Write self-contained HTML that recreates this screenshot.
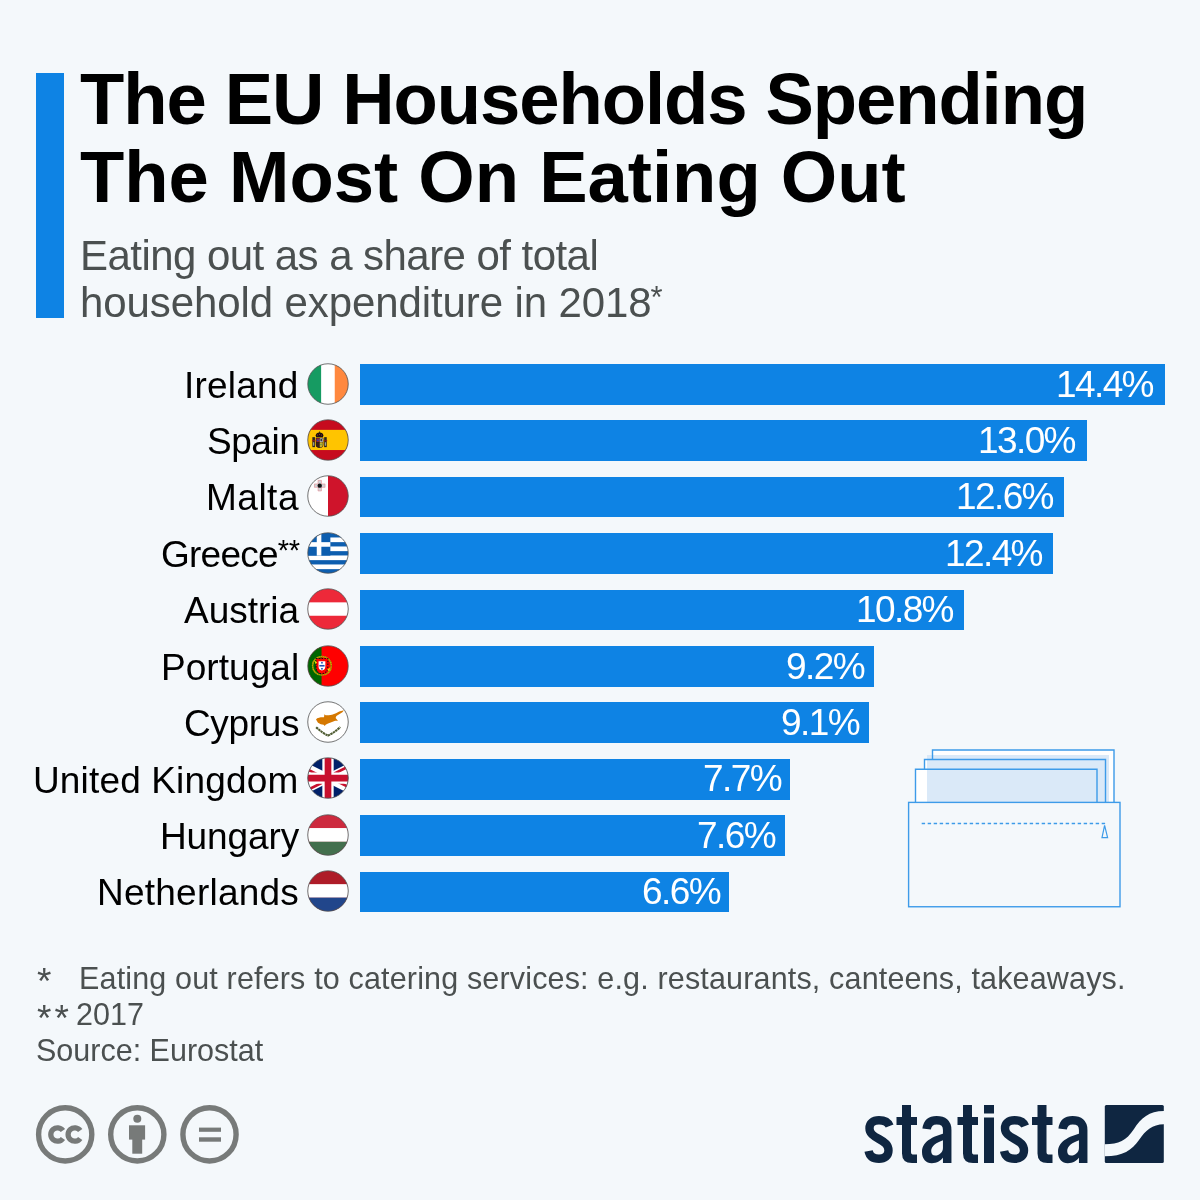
<!DOCTYPE html>
<html>
<head>
<meta charset="utf-8">
<style>
html,body{margin:0;padding:0;}
body{width:1200px;height:1200px;position:relative;overflow:hidden;background:#f4f8fb;font-family:"Liberation Sans",sans-serif;}
.a{position:absolute;white-space:pre;line-height:1;will-change:transform;}
.accent{position:absolute;left:36px;top:73px;width:28px;height:245px;background:#0e83e4;}
.t{font-weight:700;font-size:72.5px;color:#000;left:80px;}
.st{font-size:42px;color:#4b5050;left:80px;}
.bar{position:absolute;left:360px;height:40.8px;background:#0e83e4;}
.lab{position:absolute;right:901px;will-change:transform;font-size:37px;color:#000;line-height:1;white-space:pre;letter-spacing:0.15px;}
.sup{font-size:29px;vertical-align:7px;letter-spacing:-0.5px;}
.val{position:absolute;will-change:transform;top:1.7px;font-size:37px;color:#fff;line-height:1;white-space:pre;letter-spacing:-1.6px;}
.flag{position:absolute;left:307px;width:42px;height:42px;}
.fn{font-size:30.5px;color:#4b5050;}
</style>
</head>
<body>
<div class="accent"></div>
<div class="a t" style="top:62.9px;letter-spacing:-1.08px">The EU Households Spending</div>
<div class="a t" style="top:140.8px">The Most On Eating Out</div>
<div class="a st" style="top:234.6px;letter-spacing:-0.55px">Eating out as a share of total</div>
<div class="a st" style="top:282.2px;letter-spacing:-0.1px">household expenditure in 2018<span style="font-size:31px;vertical-align:9px;margin-left:-1px">*</span></div>
<div class="bar" style="top:363.85px;width:805.00px"><div class="val" style="right:12.07px">14.4%</div></div>
<div class="lab" style="top:366.63px;letter-spacing:0.2px;right:901.20px">Ireland</div>
<svg class="flag" style="top:362.55px" width="42" height="42" viewBox="-0.75 -0.75 42 42"><defs><clipPath id="c_ie"><circle cx="20.25" cy="20.25" r="20.25"/></clipPath></defs><g clip-path="url(#c_ie)"><rect x="0" y="0" width="13.7" height="40.5" fill="#169b62"/><rect x="13.5" y="0" width="13.7" height="40.5" fill="#fff"/><rect x="27" y="0" width="14" height="40.5" fill="#ff883e"/></g><circle cx="20.25" cy="20.25" r="20.25" fill="none" stroke="#505050" stroke-width="0.8"/></svg>
<div class="bar" style="top:420.27px;width:726.74px"><div class="val" style="right:11.54px">13.0%</div></div>
<div class="lab" style="top:423.05px;letter-spacing:-0.45px;right:900.55px">Spain</div>
<svg class="flag" style="top:418.97px" width="42" height="42" viewBox="-0.75 -0.75 42 42"><defs><clipPath id="c_es"><circle cx="20.25" cy="20.25" r="20.25"/></clipPath></defs><g clip-path="url(#c_es)"><rect x="0" y="0" width="40.5" height="40.5" fill="#c60b1e"/><rect x="0" y="10.1" width="40.5" height="20.2" fill="#ffc400"/><path d="M8 15.6 Q8.2 13 11.8 12.8 Q15.4 13 15.6 15.6 L15.2 17.6 L8.4 17.6 Z" fill="#1b1210"/><circle cx="11.8" cy="12.4" r="0.7" fill="#1b1210"/><circle cx="9.8" cy="15.2" r="0.55" fill="#c8202a"/><circle cx="11.8" cy="14.8" r="0.55" fill="#c8202a"/><circle cx="13.8" cy="15.2" r="0.55" fill="#c8202a"/><rect x="4.6" y="17.4" width="2.6" height="10" fill="#2a2420"/><rect x="16.4" y="17.4" width="2.6" height="10" fill="#2a2420"/><rect x="4.2" y="20.5" width="3.4" height="1" fill="#9a1a1a"/><rect x="16" y="20.5" width="3.4" height="1" fill="#9a1a1a"/><rect x="5.3" y="22.5" width="1.2" height="3.5" fill="#d0d0d0" opacity="0.7"/><rect x="17.1" y="22.5" width="1.2" height="3.5" fill="#d0d0d0" opacity="0.7"/><path d="M8 18 L15.6 18 L15.6 25 Q15.6 28 11.8 28.2 Q8 28 8 25 Z" fill="#2a1a14"/><rect x="8.6" y="18.6" width="3" height="3.6" fill="#b01c28"/><rect x="12" y="18.6" width="3" height="3.6" fill="#d8d8d8"/><rect x="12.6" y="19.2" width="1.8" height="2.4" fill="#3a3a3a"/><circle cx="10" cy="20.6" r="1.1" fill="#2a3fa8"/><rect x="8.6" y="22.6" width="3" height="4.6" fill="#3a1c14"/><path d="M12 22.6 h3 v2.6 q0 2.4 -3 2.6 Z" fill="#c8b030"/><circle cx="13.3" cy="24.8" r="0.8" fill="#6aa040"/></g><circle cx="20.25" cy="20.25" r="20.25" fill="none" stroke="#505050" stroke-width="0.8"/></svg>
<div class="bar" style="top:476.69px;width:704.38px"><div class="val" style="right:11.39px">12.6%</div></div>
<div class="lab" style="top:479.47px;letter-spacing:0.5px;right:901.50px">Malta</div>
<svg class="flag" style="top:475.39px" width="42" height="42" viewBox="-0.75 -0.75 42 42"><defs><clipPath id="c_mt"><circle cx="20.25" cy="20.25" r="20.25"/></clipPath></defs><g clip-path="url(#c_mt)"><rect x="0" y="0" width="40.5" height="40.5" fill="#fff"/><rect x="20.25" y="0" width="21" height="40.5" fill="#cf142b"/><path d="M10.3 4.6 h3.4 v3.6 h3.6 v3.4 h-3.6 v3.6 h-3.4 v-3.6 h-3.6 v-3.4 h3.6 Z" fill="#d0d4d6" stroke="#e88a94" stroke-width="0.6"/><circle cx="12" cy="9.9" r="2.2" fill="#111"/></g><circle cx="20.25" cy="20.25" r="20.25" fill="none" stroke="#505050" stroke-width="0.8"/></svg>
<div class="bar" style="top:533.11px;width:693.19px"><div class="val" style="right:11.31px">12.4%</div></div>
<div class="lab" style="top:535.89px;letter-spacing:-0.75px;right:900.25px">Greece<span class="sup">**</span></div>
<svg class="flag" style="top:531.81px" width="42" height="42" viewBox="-0.75 -0.75 42 42"><defs><clipPath id="c_gr"><circle cx="20.25" cy="20.25" r="20.25"/></clipPath></defs><g clip-path="url(#c_gr)"><rect x="0" y="0.40" width="40.5" height="4.55" fill="#0d5eaf"/><rect x="0" y="4.90" width="40.5" height="4.55" fill="#fff"/><rect x="0" y="9.40" width="40.5" height="4.55" fill="#0d5eaf"/><rect x="0" y="13.90" width="40.5" height="4.55" fill="#fff"/><rect x="0" y="18.40" width="40.5" height="4.55" fill="#0d5eaf"/><rect x="0" y="22.90" width="40.5" height="4.55" fill="#fff"/><rect x="0" y="27.40" width="40.5" height="4.55" fill="#0d5eaf"/><rect x="0" y="31.90" width="40.5" height="4.55" fill="#fff"/><rect x="0" y="36.40" width="40.5" height="4.55" fill="#0d5eaf"/><rect x="0" y="0" width="22.6" height="22.9" fill="#0d5eaf"/><rect x="9" y="0" width="4.6" height="22.9" fill="#fff"/><rect x="0" y="9.4" width="22.6" height="4.6" fill="#fff"/></g><circle cx="20.25" cy="20.25" r="20.25" fill="none" stroke="#505050" stroke-width="0.8"/></svg>
<div class="bar" style="top:589.53px;width:603.75px"><div class="val" style="right:10.70px">10.8%</div></div>
<div class="lab" style="top:592.31px;letter-spacing:-0.02px;right:900.98px">Austria</div>
<svg class="flag" style="top:588.23px" width="42" height="42" viewBox="-0.75 -0.75 42 42"><defs><clipPath id="c_at"><circle cx="20.25" cy="20.25" r="20.25"/></clipPath></defs><g clip-path="url(#c_at)"><rect x="0" y="0" width="40.5" height="40.5" fill="#ed2939"/><rect x="0" y="13.6" width="40.5" height="13.4" fill="#fff"/></g><circle cx="20.25" cy="20.25" r="20.25" fill="none" stroke="#505050" stroke-width="0.8"/></svg>
<div class="bar" style="top:645.95px;width:514.31px"><div class="val" style="right:10.10px">9.2%</div></div>
<div class="lab" style="top:648.73px;letter-spacing:0.05px;right:901.05px">Portugal</div>
<svg class="flag" style="top:644.65px" width="42" height="42" viewBox="-0.75 -0.75 42 42"><defs><clipPath id="c_pt"><circle cx="20.25" cy="20.25" r="20.25"/></clipPath></defs><g clip-path="url(#c_pt)"><rect x="0" y="0" width="40.5" height="40.5" fill="#ff0000"/><rect x="0" y="0" width="13.8" height="40.5" fill="#006600"/><circle cx="14.2" cy="20" r="9.4" fill="none" stroke="#c8b400" stroke-width="1.4"/><circle cx="14.2" cy="20" r="9.4" fill="none" stroke="#2a2a00" stroke-width="0.5" stroke-dasharray="0.8 1.2"/><path d="M4.8 17 Q8 11 14 11 Q20.4 11 23.6 17" fill="none" stroke="#a89600" stroke-width="0.6"/><path d="M8.3 12.8 h11.8 v7.6 q0 7 -5.9 7.6 q-5.9 -0.6 -5.9 -7.6 Z" fill="#ff0000" stroke="#111" stroke-width="1.1" stroke-dasharray="1.4 1.4"/><path d="M10.8 15.6 h6.8 v5 q0 3.8 -3.4 4.2 q-3.4 -0.4 -3.4 -4.2 Z" fill="#fff"/><rect x="13.4" y="16.2" width="1.6" height="1.6" fill="#1f4fb5"/><rect x="11.6" y="19.2" width="5.2" height="1.6" fill="#1f4fb5"/><rect x="13.4" y="22.2" width="1.6" height="1.6" fill="#1f4fb5"/><path d="M6.4 14.6 l3 2 l-1.4 1.8 Z" fill="#f0e000"/><path d="M22.4 21.6 l-3 2.4 l2 1.6 Z" fill="#f0e000"/></g><circle cx="20.25" cy="20.25" r="20.25" fill="none" stroke="#505050" stroke-width="0.8"/></svg>
<div class="bar" style="top:702.37px;width:508.72px"><div class="val" style="right:10.06px">9.1%</div></div>
<div class="lab" style="top:705.15px;letter-spacing:-0.35px;right:900.65px">Cyprus</div>
<svg class="flag" style="top:701.07px" width="42" height="42" viewBox="-0.75 -0.75 42 42"><defs><clipPath id="c_cy"><circle cx="20.25" cy="20.25" r="20.25"/></clipPath></defs><g clip-path="url(#c_cy)"><rect x="0" y="0" width="40.5" height="40.5" fill="#fff"/><path d="M8.25 17.8 L9.45 16.6 L13.05 15.6 L16.25 15.4 L16.65 12.6 L17.85 13.4 L21.05 13.6 L24.25 13 L28.25 11.4 L31.45 9.8 L36.25 8.6 L34.65 10.6 L31.45 12.6 L28.65 14.2 L27.85 16.2 L30.25 19 L27.45 19 L24.25 20.2 L20.25 21.8 L17.85 23 L17.05 24.2 L15.85 23 L13.05 22.6 L10.25 21 L9.05 19 Z" fill="#d57800"/><path d="M8.4 25.4 Q15 31.5 20.25 33.8 Q25.5 31.5 32.6 25.4" fill="none" stroke="#4e5b31" stroke-width="2.1" stroke-dasharray="2.4 0.5"/></g><circle cx="20.25" cy="20.25" r="20.25" fill="none" stroke="#505050" stroke-width="0.8"/></svg>
<div class="bar" style="top:758.79px;width:430.45px"><div class="val" style="right:9.53px">7.7%</div></div>
<div class="lab" style="top:761.57px;letter-spacing:0.15px;right:901.15px">United Kingdom</div>
<svg class="flag" style="top:757.49px" width="42" height="42" viewBox="-0.75 -0.75 42 42"><defs><clipPath id="c_uk"><circle cx="20.25" cy="20.25" r="20.25"/></clipPath></defs><g clip-path="url(#c_uk)"><g transform="translate(-20.25,0.2) scale(1.0125)"><rect x="0" y="0" width="80" height="40" fill="#012169"/><path d="M0 0 L80 40 M80 0 L0 40" stroke="#fff" stroke-width="8.5"/><clipPath id="ukc"><path d="M40 20 L80 20 L80 40 Z M40 20 L40 40 L0 40 Z M40 20 L0 20 L0 0 Z M40 20 L40 0 L80 0 Z"/></clipPath><path d="M0 0 L80 40 M80 0 L0 40" stroke="#c8102e" stroke-width="5.2" clip-path="url(#ukc)"/><path d="M40 0 V40 M0 20 H80" stroke="#fff" stroke-width="11.2"/><path d="M40 0 V40 M0 20 H80" stroke="#c8102e" stroke-width="6.6"/></g></g><circle cx="20.25" cy="20.25" r="20.25" fill="none" stroke="#505050" stroke-width="0.8"/></svg>
<div class="bar" style="top:815.21px;width:424.86px"><div class="val" style="right:9.49px">7.6%</div></div>
<div class="lab" style="top:817.99px;letter-spacing:-0.1px;right:900.90px">Hungary</div>
<svg class="flag" style="top:813.91px" width="42" height="42" viewBox="-0.75 -0.75 42 42"><defs><clipPath id="c_hu"><circle cx="20.25" cy="20.25" r="20.25"/></clipPath></defs><g clip-path="url(#c_hu)"><rect x="0" y="0" width="40.5" height="40.5" fill="#cd2a3e"/><rect x="0" y="13.3" width="40.5" height="13.8" fill="#fff"/><rect x="0" y="27" width="40.5" height="14" fill="#436f4d"/></g><circle cx="20.25" cy="20.25" r="20.25" fill="none" stroke="#505050" stroke-width="0.8"/></svg>
<div class="bar" style="top:871.63px;width:368.96px"><div class="val" style="right:9.11px">6.6%</div></div>
<div class="lab" style="top:874.41px;letter-spacing:0.23px;right:901.23px">Netherlands</div>
<svg class="flag" style="top:870.33px" width="42" height="42" viewBox="-0.75 -0.75 42 42"><defs><clipPath id="c_nl"><circle cx="20.25" cy="20.25" r="20.25"/></clipPath></defs><g clip-path="url(#c_nl)"><rect x="0" y="0" width="40.5" height="40.5" fill="#ae1c28"/><rect x="0" y="13.4" width="40.5" height="13.6" fill="#fff"/><rect x="0" y="26.9" width="40.5" height="14" fill="#21468b"/></g><circle cx="20.25" cy="20.25" r="20.25" fill="none" stroke="#505050" stroke-width="0.8"/></svg>
<svg style="position:absolute;left:900px;top:740px" width="230" height="175" viewBox="900 740 230 175">
<path d="M932.5 750 H1114 V802 H915.5 V769.25 H924.5 V759.5 H932.5 Z" fill="#fff"/>
<rect x="927" y="755" width="182" height="47" fill="#dae9f8"/>
<g fill="none" stroke="#3d9be9" stroke-width="1.4">
<path d="M932.5 759.5 V750 H1114 V802"/>
<path d="M924.5 769.25 V759.5 H1105.5 V802"/>
<path d="M915.5 802 V769.25 H1097 V802"/>
</g>
<rect x="908.6" y="802.4" width="211.4" height="104.35" fill="#f4f8fb" stroke="#3d9be9" stroke-width="1.4"/>
<path d="M921.7 823.5 H1105.3" stroke="#3d9be9" stroke-width="1.3" stroke-dasharray="3.4 2.6"/>
<path d="M1104.6 825.4 L1102 837.6 L1107.6 837.6 Z" fill="none" stroke="#3d9be9" stroke-width="1.2"/>
</svg>
<div class="a fn" style="left:36.5px;top:963.1px;font-size:37px">*</div>
<div class="a fn" style="left:79px;top:963.4px;letter-spacing:0.16px">Eating out refers to catering services: e.g. restaurants, canteens, takeaways.</div>
<div class="a fn" style="left:36.5px;top:1000.1px;font-size:37px;letter-spacing:3px">**</div>
<div class="a fn" style="left:76px;top:999.2px">2017</div>
<div class="a fn" style="left:36px;top:1035px">Source: Eurostat</div>
<svg style="position:absolute;left:30px;top:1100px" width="220" height="70" viewBox="30 1100 220 70">
<g fill="none" stroke="#777a79" stroke-width="5.4">
<circle cx="65.2" cy="1134.4" r="26.6"/>
<circle cx="137.3" cy="1134.4" r="26.6"/>
<circle cx="209.5" cy="1134.4" r="26.6"/>
</g>
<g fill="#777a79">
<circle cx="137.3" cy="1118.8" r="4"/>
<rect x="129" y="1125.3" width="16.1" height="14.3"/>
<rect x="132.3" y="1139" width="9.9" height="14.7"/>
<rect x="199" y="1127.6" width="22" height="4.2"/>
<rect x="199" y="1137.3" width="22" height="4.4"/>
</g>
<path d="M62.92 1130.56 A6.7 6.7 0 1 0 62.92 1138.44 M80.22 1130.56 A6.7 6.7 0 1 0 80.22 1138.44" fill="none" stroke="#777a79" stroke-width="5.3"/>
</svg>
<svg style="position:absolute;left:850px;top:1095px" width="330" height="80" viewBox="850 1095 330 80">
<defs>
<g id="ls"><path d="M24.6 10 C22.8 5.6 19.2 4.2 14 4.2 C8 4.2 4.5 7.4 4.5 12.2 C4.5 17.4 8.2 19.8 14 23 C20 26.3 23.5 29 23.5 34.6 C23.5 40.2 19.5 42.8 14 42.8 C8.2 42.8 4.6 40.2 3.6 35" fill="none" stroke="#0f2641" stroke-width="8.4"/></g>
<g id="lt"><path d="M5.5 0 H14.5 V12 H20.5 V20 H14.5 V47 Q14.5 49.6 17.2 49.6 H20.5 V58 H15.5 Q5.5 58 5.5 48.5 V20 H0 V12 H5.5 Z" fill="#0f2641"/></g>
<g id="la"><path d="M4.6 13 C5.6 6.2 9.6 4.2 14.6 4.2 C21.2 4.2 25.2 7 25.2 14 V47" fill="none" stroke="#0f2641" stroke-width="8.5"/>
<path fill-rule="evenodd" fill="#0f2641" d="M25 16.5 C14 19.5 0 24 0 36 C0 43 4 47.2 9.8 47.2 C15 47.2 19 44.5 21.5 41 L25 41 Z M21 24.2 C14.5 26.6 9.2 29.6 9.2 35 C9.2 38.2 10.8 39.6 13.2 39.6 C17.2 39.6 21 36.2 21 32 Z"/></g>
</defs>
<use href="#ls" x="865" y="1116"/>
<use href="#lt" x="896.5" y="1105"/>
<use href="#la" x="922" y="1116"/>
<use href="#lt" x="957.5" y="1105"/>
<rect x="984" y="1117.5" width="10" height="45.5" fill="#0f2641"/>
<rect x="984" y="1105" width="10" height="8.5" fill="#0f2641"/>
<use href="#ls" x="1000.5" y="1116"/>
<use href="#lt" x="1032" y="1105"/>
<use href="#la" x="1058" y="1116"/>
<rect x="1104.8" y="1105.1" width="59" height="57.9" rx="1.5" fill="#0f2641"/>
<path d="M1104.8 1144.3 C1119 1144 1126 1141 1134 1129 C1141 1118 1149 1111 1164 1111 L1164 1124.3 C1152 1124.5 1146 1130 1139 1140 C1132 1150 1123 1156.3 1104.8 1156.3 Z" fill="#f4f8fb"/>
</svg>
</body>
</html>
